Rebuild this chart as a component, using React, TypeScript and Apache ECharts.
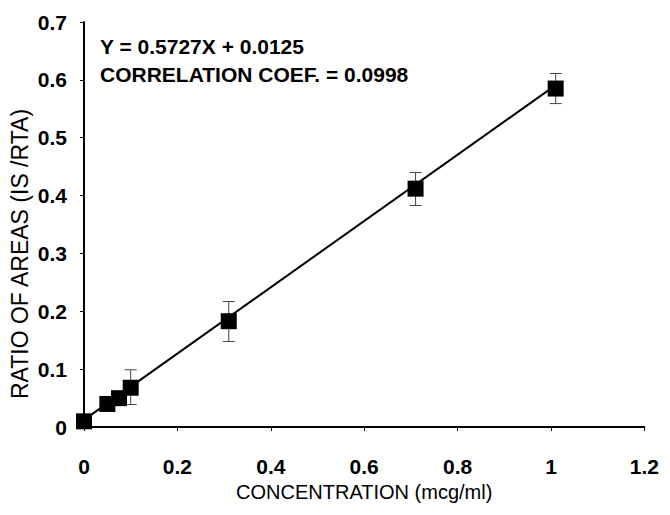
import React, { useEffect, useRef } from "react";
import * as echarts from "echarts";

const concentrations = [0, 0.05, 0.075, 0.1, 0.31, 0.71, 1.01];
const ratios = [0.01, 0.04, 0.05, 0.068, 0.183, 0.412, 0.585];
const errHigh = [0.013, 0.043, 0.053, 0.099, 0.217, 0.44, 0.611];
const errLow = [0.007, 0.037, 0.047, 0.039, 0.148, 0.383, 0.559];
const fitX = [0, 1.01];
const fitY = [0.0125, 0.591];
const equationText = "Y = 0.5727X + 0.0125";
const corrText = "CORRELATION COEF. = 0.0998";
const xTitle = "CONCENTRATION (mcg/ml)";
const yTitle = "RATIO OF AREAS (IS /RTA)";

export default function App() {
  const ref = useRef<HTMLDivElement>(null);
  useEffect(() => {
    if (!ref.current) return;
    const chart = echarts.init(ref.current, null, { renderer: "svg" });
    const font = "'Liberation Sans', Arial, sans-serif";
    chart.setOption({
      animation: false,
      backgroundColor: "#ffffff",
      grid: { left: 76, right: 12, top: 14, bottom: 69 },
      xAxis: {
        type: "value",
        min: 0,
        max: 1.2,
        interval: 0.2,
        name: xTitle,
        nameLocation: "middle",
        nameGap: 51,
        nameTextStyle: { color: "#000", fontSize: 20, fontFamily: font },
        axisLine: { onZero: false, lineStyle: { color: "#000", width: 2 } },
        axisTick: { show: true, length: 4, lineStyle: { color: "#000", width: 1 } },
        axisLabel: {
          color: "#000",
          fontSize: 21,
          fontWeight: "bold",
          fontFamily: font,
          margin: 29,
          formatter: (v: number) => String(Math.round(v * 10) / 10),
        },
        splitLine: { show: false },
      },
      yAxis: {
        type: "value",
        min: 0,
        max: 0.7,
        interval: 0.1,
        axisLine: { show: true, onZero: false, lineStyle: { color: "#000", width: 2 } },
        axisTick: { show: true, length: 4, lineStyle: { color: "#000", width: 1 } },
        axisLabel: {
          color: "#000",
          fontSize: 21,
          fontWeight: "bold",
          fontFamily: font,
          margin: 17,
          formatter: (v: number) => String(Math.round(v * 10) / 10),
        },
        splitLine: { show: false },
      },
      graphic: [
        {
          type: "text",
          left: 92,
          top: 24,
          style: {
            text: equationText + "\n" + corrText,
            fill: "#000",
            font: `bold 21px ${font}`,
            lineHeight: 28,
          },
        },
        {
          type: "text",
          x: 12,
          y: 246,
          rotation: Math.PI / 2,
          style: {
            text: yTitle,
            fill: "#000",
            font: `23px ${font}`,
            textAlign: "center",
            textVerticalAlign: "middle",
          },
        },
      ],
      series: [
        {
          type: "line",
          data: fitX.map((x, i) => [x, fitY[i]]),
          symbol: "none",
          lineStyle: { color: "#000", width: 2 },
          z: 1,
        },
        {
          type: "custom",
          z: 2,
          data: concentrations.map((x, i) => [x, errLow[i], errHigh[i]]),
          renderItem: (params: any, api: any) => {
            const x = api.value(0);
            const lo = api.coord([x, api.value(1)]);
            const hi = api.coord([x, api.value(2)]);
            const cap = 6;
            const style = { stroke: "#444", lineWidth: 1 };
            return {
              type: "group",
              children: [
                { type: "line", shape: { x1: lo[0], y1: lo[1], x2: hi[0], y2: hi[1] }, style },
                { type: "line", shape: { x1: lo[0] - cap, y1: lo[1], x2: lo[0] + cap, y2: lo[1] }, style },
                { type: "line", shape: { x1: hi[0] - cap, y1: hi[1], x2: hi[0] + cap, y2: hi[1] }, style },
              ],
            };
          },
        },
        {
          type: "scatter",
          z: 3,
          data: concentrations.map((x, i) => [x, ratios[i]]),
          symbol: "rect",
          symbolSize: 16,
          itemStyle: { color: "#000", opacity: 1 },
        },
      ],
    });
    return () => chart.dispose();
  }, []);
  return <div ref={ref} style={{ width: 654, height: 499 }} />;
}
